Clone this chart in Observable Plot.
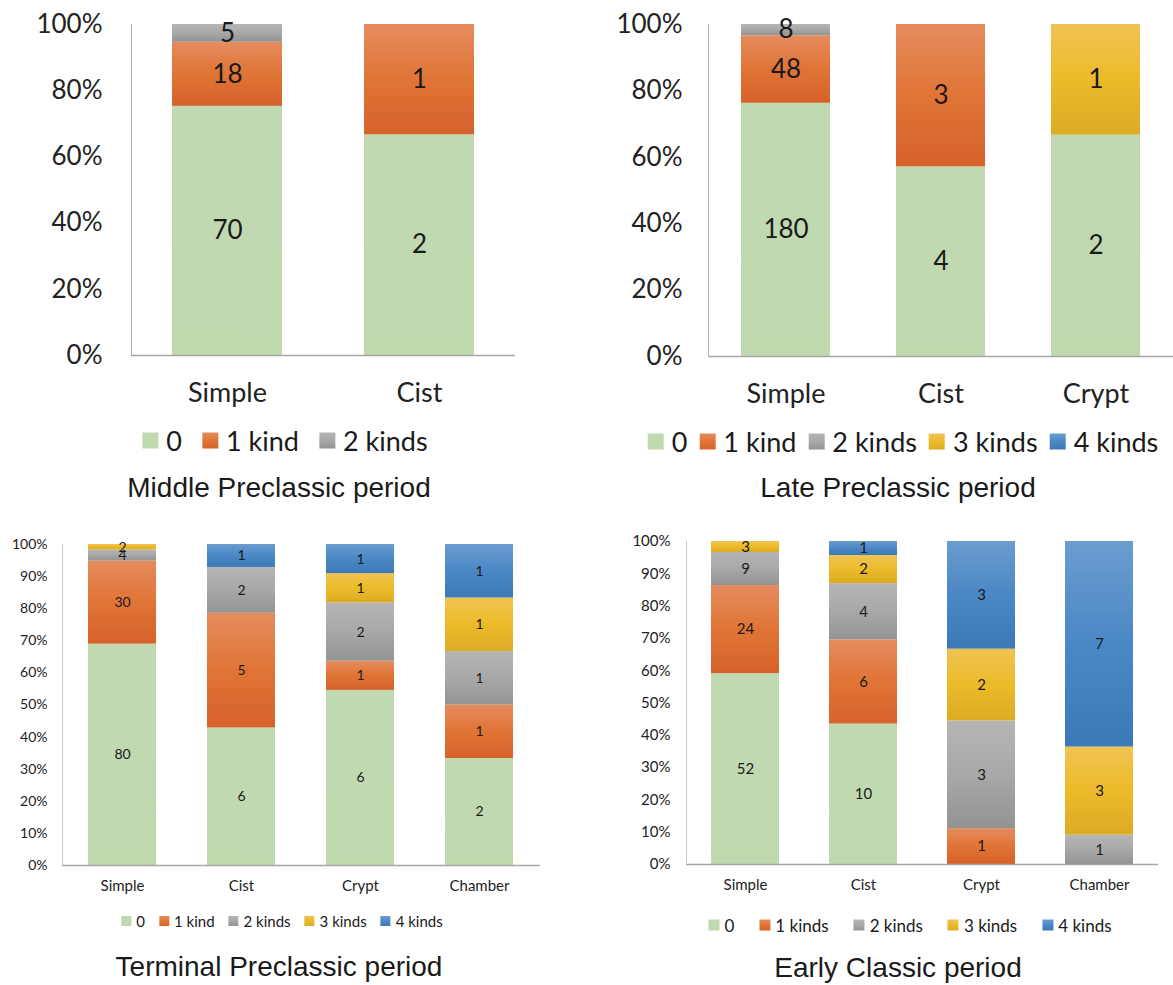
<!DOCTYPE html>
<html><head><meta charset="utf-8">
<script src="https://cdn.jsdelivr.net/npm/d3@7"></script>
<script src="https://cdn.jsdelivr.net/npm/@observablehq/plot@0.6"></script>
<style>
html,body{margin:0;padding:0;background:#fff;}
body{width:1173px;height:985px;position:relative;overflow:hidden;font-family:Lato,"Open Sans",sans-serif;}
.panel{position:absolute;}
.legend{position:absolute;display:flex;align-items:center;white-space:nowrap;color:#1a1a1a;transform:translate(-50%,-50%);}
.legend .item{display:flex;align-items:center;}
.legend .sw{display:inline-block;}
.title{position:absolute;font-family:"Liberation Sans",Arial,sans-serif;color:#1a1a1a;transform:translate(-50%,-50%);white-space:nowrap;}
</style></head><body>
<script>
// ---------- data ----------
const yTicks5 = [0, 0.2, 0.4, 0.6, 0.8, 1];
const yTicks10 = [0, 0.1, 0.2, 0.3, 0.4, 0.5, 0.6, 0.7, 0.8, 0.9, 1];

// Middle Preclassic
const midTypes = ["Simple", "Cist"];
const midSeries = ["0", "1 kind", "2 kinds"];
const mid0 = [70, 2];
const mid1 = [18, 1];
const mid2 = [5, 0];

// Late Preclassic
const lateTypes = ["Simple", "Cist", "Crypt"];
const lateSeries = ["0", "1 kind", "2 kinds", "3 kinds", "4 kinds"];
const late0 = [180, 4, 2];
const late1 = [48, 3, 0];
const late2 = [8, 0, 0];
const late3 = [0, 0, 1];
const late4 = [0, 0, 0];

// Terminal Preclassic
const termTypes = ["Simple", "Cist", "Crypt", "Chamber"];
const termSeries = ["0", "1 kind", "2 kinds", "3 kinds", "4 kinds"];
const term0 = [80, 6, 6, 2];
const term1 = [30, 5, 1, 1];
const term2 = [4, 2, 2, 1];
const term3 = [2, 0, 1, 1];
const term4 = [0, 1, 1, 1];

// Early Classic
const earlyTypes = ["Simple", "Cist", "Crypt", "Chamber"];
const earlySeries = ["0", "1 kinds", "2 kinds", "3 kinds", "4 kinds"];
const early0 = [52, 10, 0, 0];
const early1 = [24, 6, 1, 0];
const early2 = [9, 4, 3, 1];
const early3 = [3, 2, 2, 3];
const early4 = [0, 1, 3, 7];

const titles = ["Middle Preclassic period", "Late Preclassic period", "Terminal Preclassic period", "Early Classic period"];

// ---------- styles ----------
const baseColors = ["#c0d9b0", "#e07436", "#a6a6a6", "#ecbb2a", "#4a87c5"];
const gradStops = [
  ["#c0d9b0", "#c0d9b0", "#bfd8ae"],
  ["#e58c5e", "#e07436", "#d6622a"],
  ["#b5b5b5", "#a8a8a8", "#939393"],
  ["#f0c352", "#ecbb2a", "#dbab24"],
  ["#6c9dd0", "#4a87c5", "#3d79b7"]
];

function buildRows(types, seriesArrays) {
  const rows = [];
  seriesArrays.forEach((arr, k) => {
    arr.forEach((n, i) => { if (n > 0) rows.push({type: types[i], k, n}); });
  });
  return rows;
}

function applyGradients(svg, prefix) {
  const ns = "http://www.w3.org/2000/svg";
  const defs = document.createElementNS(ns, "defs");
  gradStops.forEach((stops, i) => {
    const g = document.createElementNS(ns, "linearGradient");
    g.setAttribute("id", prefix + i);
    g.setAttribute("x1", "0"); g.setAttribute("y1", "0");
    g.setAttribute("x2", "0"); g.setAttribute("y2", "1");
    stops.forEach((c, j) => {
      const s = document.createElementNS(ns, "stop");
      s.setAttribute("offset", (j / (stops.length - 1)).toString());
      s.setAttribute("stop-color", c);
      g.appendChild(s);
    });
    defs.appendChild(g);
  });
  svg.insertBefore(defs, svg.firstChild);
  svg.querySelectorAll("rect").forEach(r => {
    const f = (r.getAttribute("fill") || "").toLowerCase();
    const i = baseColors.indexOf(f);
    if (i >= 0) r.setAttribute("fill", `url(#${prefix}${i})`);
  });
}

function makePanel(cfg) {
  const rows = buildRows(cfg.types, cfg.values);
  const svg = Plot.plot({
    width: cfg.width, height: cfg.height,
    marginLeft: cfg.ml, marginRight: cfg.mr, marginTop: cfg.mt, marginBottom: cfg.mb,
    style: {background: "transparent", fontFamily: "Lato, 'Open Sans', sans-serif", overflow: "visible"},
    x: {domain: cfg.types, paddingInner: 0.425, paddingOuter: 0.2125, label: null},
    y: {domain: [0, 1], label: null},
    color: {domain: [0, 1, 2, 3, 4], range: baseColors},
    marks: [
      Plot.barY(rows, Plot.stackY({offset: "normalize", x: "type", y: "n", fill: "k", z: "k"})),
      Plot.text(rows, Plot.stackY({offset: "normalize", x: "type", y: "n", z: "k", text: d => String(d.n),
        fill: "#1a1a1a", fontSize: cfg.barFont})),
      Plot.frame({anchor: "left", stroke: cfg.vline}),
      Plot.ruleY([0], {stroke: "#a6a6a6", strokeWidth: 1.3}),
      Plot.axisY({ticks: cfg.yTicks, tickFormat: d3.format(".0%"), tickSize: 0, tickPadding: cfg.yPad,
        fontSize: cfg.tickFont, fill: "#222", label: null}),
      Plot.axisX({tickSize: 0, tickPadding: cfg.xPad, fontSize: cfg.xFont, fill: "#222", label: null})
    ]
  });
  applyGradients(svg, cfg.id + "g");
  const div = document.createElement("div");
  div.className = "panel";
  div.style.left = cfg.left + "px";
  div.style.top = cfg.top + "px";
  div.appendChild(svg);
  document.body.appendChild(div);

  // legend
  const lg = document.createElement("div");
  lg.className = "legend";
  lg.style.left = cfg.legend.cx + "px";
  lg.style.top = cfg.legend.cy + "px";
  lg.style.fontSize = cfg.legend.font + "px";
  cfg.series.forEach((name, k) => {
    const it = document.createElement("div");
    it.className = "item";
    if (k > 0) it.style.marginLeft = cfg.legend.gap + "px";
    const sw = document.createElement("span");
    sw.className = "sw";
    sw.style.width = cfg.legend.sw + "px";
    sw.style.height = cfg.legend.sw + "px";
    sw.style.background = `linear-gradient(${gradStops[k][0]}, ${gradStops[k][1]}, ${gradStops[k][2]})`;
    sw.style.marginRight = cfg.legend.swGap + "px";
    const tx = document.createElement("span");
    tx.textContent = name;
    it.appendChild(sw); it.appendChild(tx);
    lg.appendChild(it);
  });
  document.body.appendChild(lg);

  const t = document.createElement("div");
  t.className = "title";
  t.textContent = cfg.title;
  t.style.left = cfg.tcx + "px";
  t.style.top = cfg.tcy + "px";
  t.style.fontSize = "28px";
  document.body.appendChild(t);
}

makePanel({id: "p1", left: 0, top: 0, width: 590, height: 415, ml: 131, mr: 75, mt: 24, mb: 60,
  types: midTypes, series: midSeries, values: [mid0, mid1, mid2],
  yTicks: yTicks5, yPad: 29, tickFont: 26, xPad: 27, xFont: 27, barFont: 26, vline: "#b0b0b0",
  legend: {cx: 285, cy: 440, font: 27, sw: 16, swGap: 8, gap: 20},
  title: titles[0], tcx: 279, tcy: 488});

makePanel({id: "p2", left: 590, top: 0, width: 583, height: 416, ml: 118, mr: 0, mt: 24, mb: 60,
  types: lateTypes, series: lateSeries, values: [late0, late1, late2, late3, late4],
  yTicks: yTicks5, yPad: 26, tickFont: 26, xPad: 27, xFont: 27, barFont: 26, vline: "#a9b8cc",
  legend: {cx: 903, cy: 441, font: 27, sw: 16, swGap: 8, gap: 12},
  title: titles[1], tcx: 898, tcy: 488});

makePanel({id: "p3", left: 0, top: 520, width: 590, height: 390, ml: 62, mr: 50, mt: 24, mb: 45,
  types: termTypes, series: termSeries, values: [term0, term1, term2, term3, term4],
  yTicks: yTicks10, yPad: 15, tickFont: 14, xPad: 15, xFont: 15, barFont: 14, vline: "#c8c8c8",
  legend: {cx: 282, cy: 921, font: 15, sw: 10, swGap: 5, gap: 14},
  title: titles[2], tcx: 279, tcy: 967});

makePanel({id: "p4", left: 590, top: 520, width: 583, height: 390, ml: 96, mr: 15, mt: 21, mb: 46,
  types: earlyTypes, series: earlySeries, values: [early0, early1, early2, early3, early4],
  yTicks: yTicks10, yPad: 16, tickFont: 15, xPad: 15, xFont: 15, barFont: 15, vline: "#c8c8c8",
  legend: {cx: 910, cy: 925, font: 17, sw: 11, swGap: 5, gap: 25},
  title: titles[3], tcx: 898, tcy: 968});
</script>
</body></html>
